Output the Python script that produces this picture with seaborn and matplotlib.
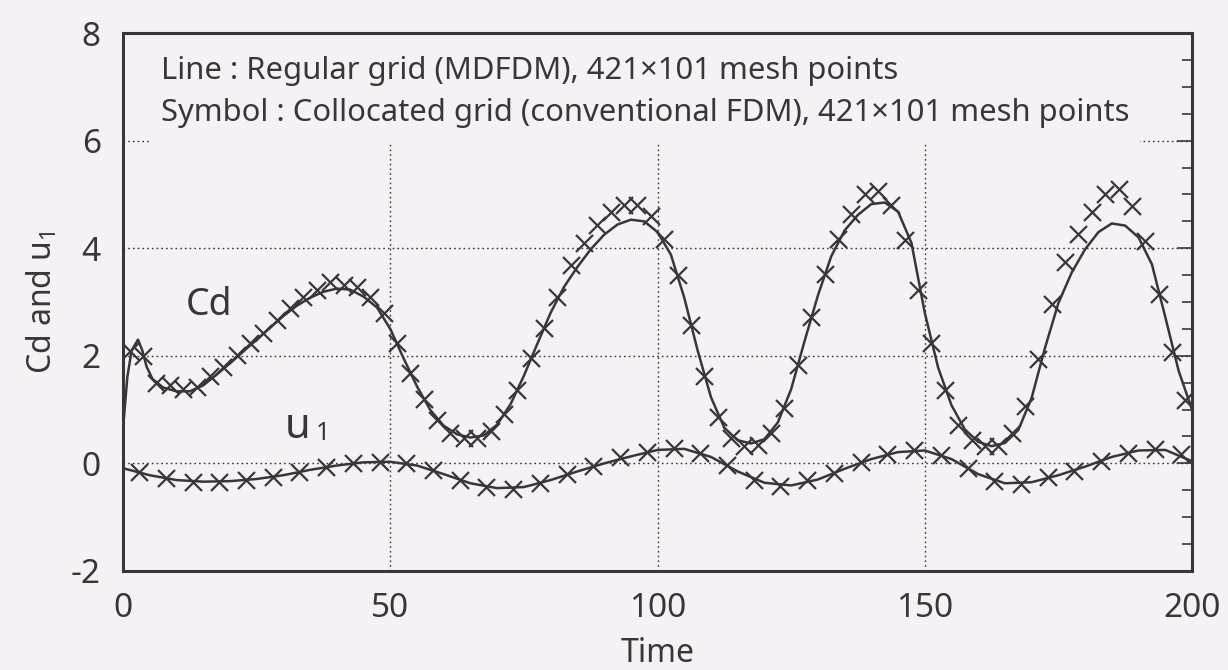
import numpy as np
import matplotlib
matplotlib.use("Agg")
import matplotlib.pyplot as plt
from matplotlib.ticker import MultipleLocator
from matplotlib.patches import Rectangle
import seaborn as sns

# ---- Cd: regular grid (MDFDM), drawn as a line ----
cd_line_t = [0.0, 0.8, 1.6, 2.8, 3.6, 4.4, 5.5,
             7.5, 10, 12.5, 15, 17.5, 20, 22.5, 25, 27.5, 30, 32.5, 35, 37.5, 40,
             42.5, 45, 47.5, 50, 52.5, 55, 57.5, 60, 62.5, 65, 67.5, 70, 72.5, 75,
             77.5, 80, 82.5, 85, 87.5, 90, 92.5, 95, 97.5, 100, 102.5, 105, 107.5,
             110, 112.5, 115, 117.5, 120, 122.5, 125, 127.5, 130, 132.5, 135, 137.5,
             140, 142.5, 145, 147.5, 150, 152.5, 155, 157.5, 160, 162.5, 165, 167.5,
             170, 172.5, 175, 177.5, 180, 182.5, 185, 187.5, 190, 192.5, 195, 197.5, 200]
cd_line = [0.65, 1.6, 2.1, 2.3, 2.1, 1.8, 1.57,
           1.41, 1.34, 1.34, 1.45, 1.65, 1.86, 2.08, 2.30, 2.52, 2.74, 2.93, 3.08, 3.19, 3.25,
           3.23, 3.10, 2.90, 2.50, 1.95, 1.43, 0.99, 0.70, 0.54, 0.48, 0.52, 0.72, 1.10, 1.63,
           2.22, 2.80, 3.28, 3.65, 3.98, 4.25, 4.44, 4.53, 4.50, 4.30, 3.88, 3.08, 2.10,
           1.23, 0.66, 0.43, 0.37, 0.45, 0.76, 1.38, 2.27, 3.12, 3.85, 4.33, 4.62,
           4.82, 4.85, 4.68, 4.10, 2.80, 1.78, 1.08, 0.63, 0.40, 0.32, 0.38, 0.62,
           1.22, 2.15, 2.98, 3.55, 3.98, 4.30, 4.46, 4.42, 4.20, 3.70, 2.72, 1.72, 1.00]

# ---- Cd: collocated grid (conventional FDM), drawn as symbols ----
cd_sym_t = [1.25 + 2.5 * k for k in range(80)]
cd_sym = [2.08, 1.99, 1.50, 1.45, 1.38, 1.42, 1.62, 1.80, 2.02, 2.23,
          2.42, 2.67, 2.88, 3.10, 3.22, 3.38, 3.31, 3.28, 3.10, 2.79,
          2.23, 1.68, 1.19, 0.81, 0.57, 0.48, 0.48, 0.60, 0.91, 1.37,
          1.96, 2.51, 3.09, 3.69, 4.09, 4.43, 4.67, 4.80, 4.80, 4.60,
          4.18, 3.50, 2.57, 1.62, 0.87, 0.48, 0.32, 0.35, 0.57, 1.03,
          1.83, 2.72, 3.52, 4.18, 4.64, 5.00, 5.07, 4.80, 4.15, 3.22,
          2.24, 1.37, 0.72, 0.44, 0.32, 0.32, 0.57, 1.06, 1.94, 2.97,
          3.74, 4.27, 4.67, 5.01, 5.10, 4.79, 4.14, 3.15, 2.07, 1.17]

# ---- u1: line (MDFDM) ----
u1_line_t = [5 * k for k in range(41)]
u1_line = [-0.09, -0.22, -0.31, -0.34, -0.33, -0.29, -0.22, -0.12, -0.04, 0.02,
           0.03, -0.04, -0.20, -0.37, -0.46, -0.44, -0.31, -0.15, 0.00, 0.13,
           0.25, 0.27, 0.12, -0.15, -0.36, -0.41, -0.30, -0.10, 0.08, 0.21,
           0.24, 0.08, -0.20, -0.37, -0.35, -0.22, -0.06, 0.12, 0.24, 0.25, 0.04]

# ---- u1: symbols (conventional FDM) ----
u1_sym_t = [3 + 5 * k for k in range(40)]
u1_sym = [-0.16, -0.28, -0.34, -0.34, -0.31, -0.25, -0.16, -0.06, 0.00, 0.03,
          0.00, -0.12, -0.31, -0.44, -0.47, -0.37, -0.20, -0.05, 0.11, 0.22,
          0.29, 0.20, -0.03, -0.31, -0.42, -0.31, -0.17, 0.02, 0.17, 0.24,
          0.15, -0.08, -0.32, -0.38, -0.26, -0.14, 0.05, 0.20, 0.27, 0.18]

x_major = [0, 50, 100, 150, 200]
y_major = [-2, 0, 2, 4, 6, 8]
note_lines = ["Line : Regular grid (MDFDM), 421\u00d7101 mesh points",
              "Symbol : Collocated grid (conventional FDM), 421\u00d7101 mesh points"]

INK = "#3b3539"
PAPER = "#f4f2f4"

sns.set_theme(style="white")
plt.rcParams["font.family"] = ["Noto Sans", "DejaVu Sans"]
plt.rcParams["mathtext.fontset"] = "custom"
plt.rcParams["mathtext.rm"] = "Noto Sans"
plt.rcParams["mathtext.default"] = "regular"
plt.rcParams["axes.unicode_minus"] = False
plt.rcParams["text.color"] = INK
plt.rcParams["axes.labelcolor"] = INK
plt.rcParams["xtick.color"] = INK
plt.rcParams["ytick.color"] = INK

fig = plt.figure(figsize=(12.28, 6.70), dpi=100, facecolor=PAPER)
ax = fig.add_axes([0.1002, 0.1478, 0.8705, 0.8029], facecolor=PAPER)

# dotted reference grid at the major ticks
for xv in x_major[1:-1]:
    ax.axvline(xv, color=INK, lw=1.0, ls=(0, (1.2, 2.2)), zorder=1)
for yv in y_major[1:-1]:
    ax.axhline(yv, color=INK, lw=1.0, ls=(0, (1.2, 2.2)), zorder=1)

# blank panel behind the caption text
ax.add_patch(Rectangle((4.9, 5.94), 185.4, 2.06, facecolor=PAPER,
                       edgecolor="none", zorder=2))

sns.lineplot(x=cd_line_t, y=cd_line, ax=ax, color=INK, linewidth=1.8, zorder=4)
sns.lineplot(x=u1_line_t, y=u1_line, ax=ax, color=INK, linewidth=1.8, zorder=4)
sns.scatterplot(x=cd_sym_t, y=cd_sym, ax=ax, marker="x", s=150, color=INK,
                linewidth=1.6, zorder=5)
sns.scatterplot(x=u1_sym_t, y=u1_sym, ax=ax, marker="x", s=150, color=INK,
                linewidth=1.6, zorder=5)

ax.set_xlim(0, 200)
ax.set_ylim(-2, 8)
ax.set_xticks(x_major)
ax.set_yticks(y_major)
ax.xaxis.set_minor_locator(MultipleLocator(10))
ax.yaxis.set_minor_locator(MultipleLocator(0.5))
ax.tick_params(which="both", direction="in", top=True, right=True,
               labelsize=24, width=1.2, color=INK)
ax.tick_params(which="major", length=11)
ax.tick_params(which="minor", length=7)
ax.tick_params(axis="y", which="major", pad=16)
ax.tick_params(axis="x", which="major", pad=15)

for sp in ax.spines.values():
    sp.set_linewidth(2.2)
    sp.set_color(INK)
    sp.set_zorder(6)

ax.set_xlabel("Time", fontsize=23, labelpad=9)
ax.set_ylabel("Cd and u$_1$", fontsize=23, labelpad=8)

ax.text(7.1, 7.14, note_lines[0], fontsize=22.3, va="baseline", ha="left", zorder=3)
ax.text(7.1, 6.36, note_lines[1], fontsize=22.3, va="baseline", ha="left", zorder=3)

ax.text(11.8, 2.76, "Cd", fontsize=27, va="baseline", ha="left", zorder=3)
ax.text(30.3, 0.47, "u", fontsize=30, va="baseline", ha="left", zorder=3)
ax.text(36.0, 0.43, "1", fontsize=18, va="baseline", ha="left", zorder=3)

fig.savefig("out.png", dpi=100, facecolor=PAPER)
